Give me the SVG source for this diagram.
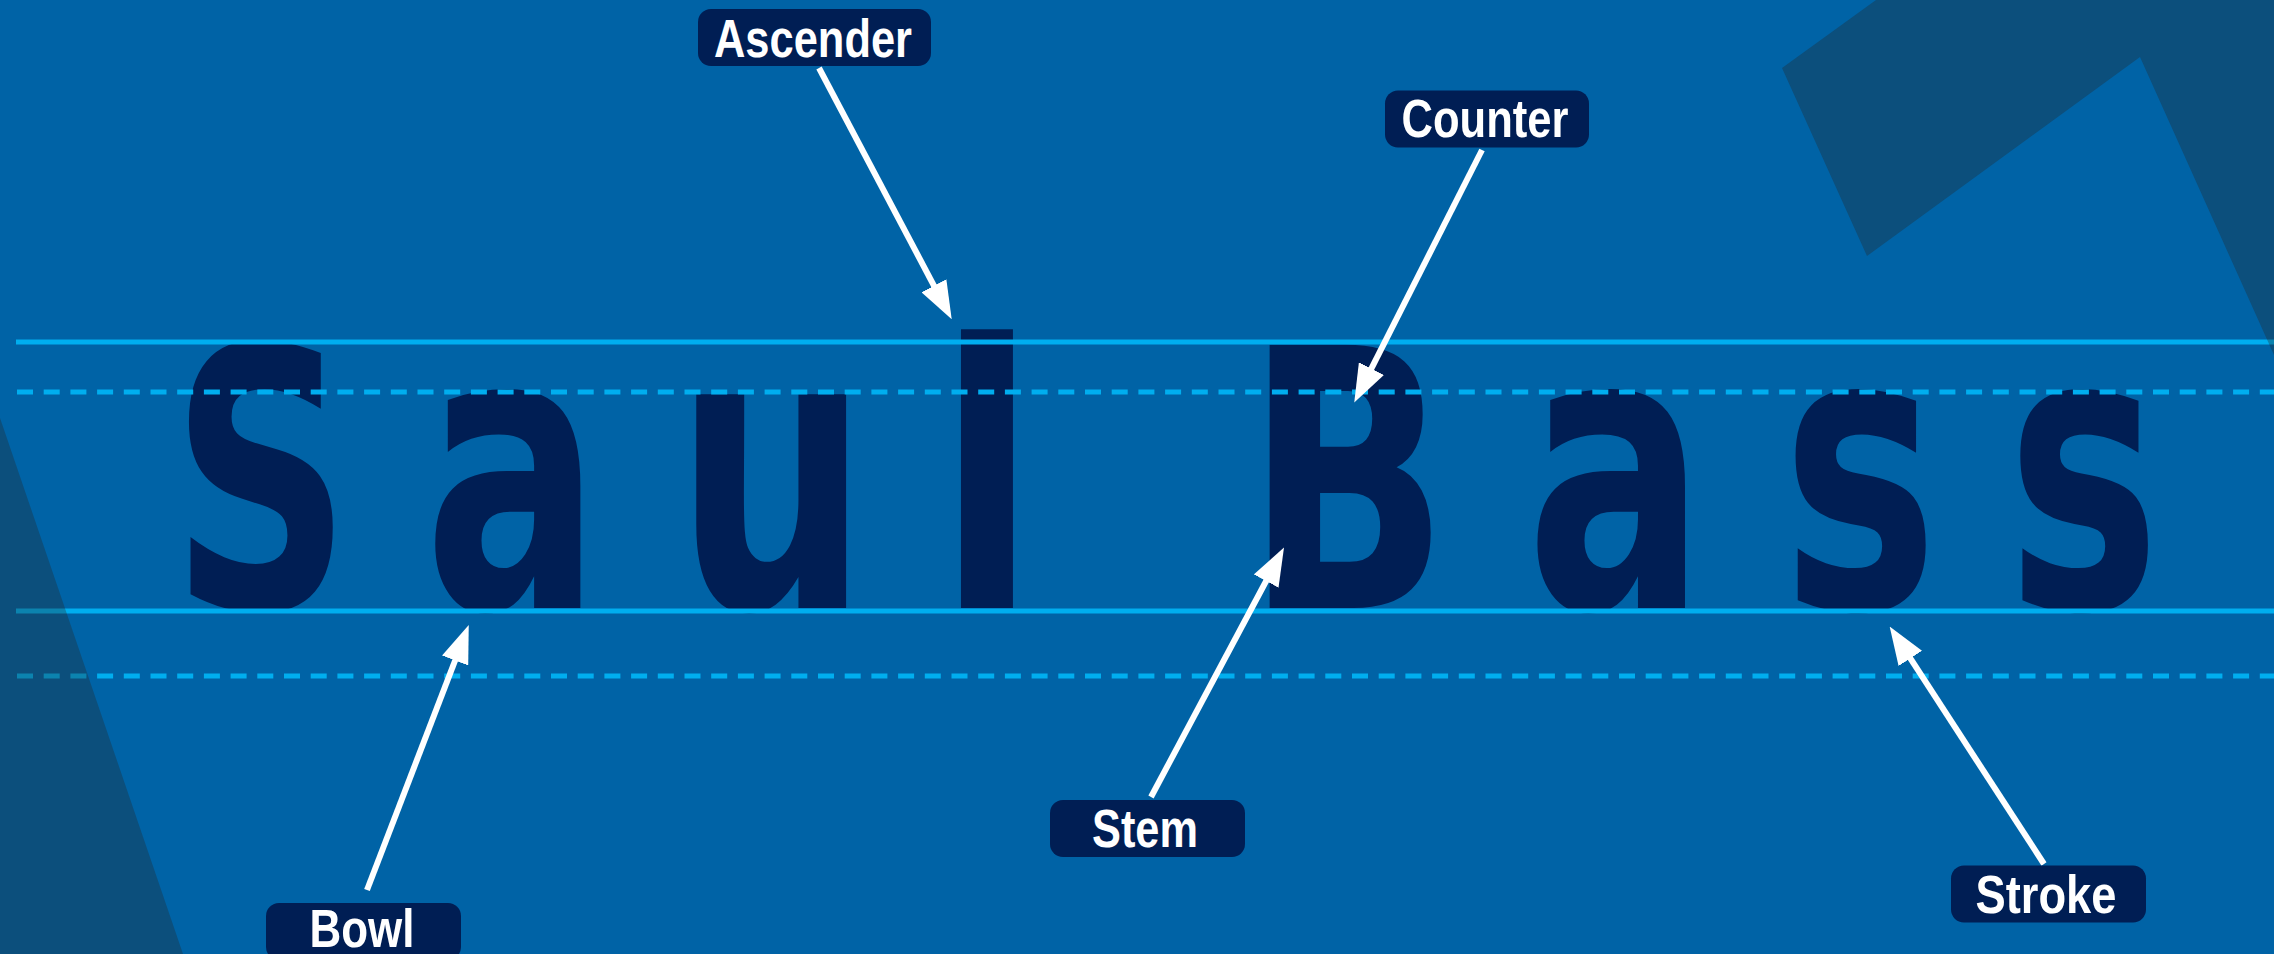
<svg xmlns="http://www.w3.org/2000/svg" width="2274" height="954" viewBox="0 0 2274 954">
  <defs>
    <style>
      .bg { fill: #0063a6; }
      .glyph { font-family: "DejaVu Sans", "Liberation Sans", sans-serif; font-weight: bold; fill: #001e54; }
      .guide { stroke: #00aeef; stroke-width: 5; fill: none; }
      .dash { stroke-dasharray: 16 10.7; }
      .shade { fill: #28211c; fill-opacity: 0.3; }
      .conn { stroke: #ffffff; stroke-width: 6; fill: none; marker-end: url(#head); }
      .box { fill: #001e54; }
      .lbl { font-family: "Liberation Sans", Arial, sans-serif; font-weight: bold; font-size: 53px; fill: #ffffff; text-anchor: middle; }
    </style>
    <marker id="head" markerUnits="userSpaceOnUse" viewBox="0 0 38 28" refX="8" refY="14" markerWidth="38" markerHeight="28" orient="auto">
      <path d="M0,0 L38,14 L0,28 Z" fill="#ffffff"/>
    </marker>
  </defs>

  <!-- backdrop -->
  <rect class="bg" x="0" y="0" width="2274" height="954"/>

  <!-- specimen lettering, each glyph condensed horizontally -->
  <g id="specimen">
    <text class="glyph" font-size="361" transform="translate(171 608) scale(0.6925 1)">S</text>
    <text class="glyph" font-size="391" transform="translate(424 608) scale(0.6707 1)">a</text>
    <text class="glyph" font-size="391" transform="translate(675 608) scale(0.6968 1)">u</text>
    <text class="glyph" font-size="367" transform="translate(936 608) scale(0.810 1)">l</text>
    <text class="glyph" font-size="361" transform="translate(1245 608) scale(0.7433 1)">B</text>
    <text class="glyph" font-size="391" transform="translate(1526 608) scale(0.682 1)">a</text>
    <text class="glyph" font-size="391" transform="translate(1782 608) scale(0.6706 1)">s</text>
    <text class="glyph" font-size="391" transform="translate(2007 608) scale(0.6577 1)">s</text>
  </g>

  <!-- guide lines: cap line, x-height, baseline, descender -->
  <g id="guides">
    <line class="guide" x1="16" y1="342" x2="2274" y2="342"/>
    <line class="guide dash" x1="17" y1="392" x2="2274" y2="392"/>
    <line class="guide" x1="16" y1="611" x2="2274" y2="611"/>
    <line class="guide dash" x1="17" y1="676" x2="2274" y2="676"/>
  </g>

  <!-- angular shadow shapes -->
  <g id="shapes">
    <polygon class="shade" points="0,418 183,954 0,954"/>
    <polygon class="shade" points="1782,68 1876,0 2274,0 2274,355 2140,57 1867,256"/>
  </g>

  <!-- pointers -->
  <g id="connectors">
    <line class="conn" x1="819" y1="68" x2="937.7" y2="292.8"/>
    <line class="conn" x1="1482" y1="150" x2="1367.8" y2="375.7"/>
    <line class="conn" x1="1151" y1="797" x2="1269.9" y2="574"/>
    <line class="conn" x1="367" y1="890" x2="458" y2="653"/>
    <line class="conn" x1="2044" y1="864" x2="1906" y2="651.7"/>
  </g>

  <!-- labels -->
  <g id="ascender">
    <rect class="box" x="698" y="9" width="233" height="57" rx="13"/>
    <text class="lbl" x="813" y="56.5" textLength="198" lengthAdjust="spacingAndGlyphs">Ascender</text>
  </g>
  <g id="counter">
    <rect class="box" x="1385" y="90.5" width="204" height="57" rx="13"/>
    <text class="lbl" x="1485" y="136.5" textLength="167" lengthAdjust="spacingAndGlyphs">Counter</text>
  </g>
  <g id="stem">
    <rect class="box" x="1050" y="800" width="195" height="57" rx="13"/>
    <text class="lbl" x="1145" y="846.5" textLength="106" lengthAdjust="spacingAndGlyphs">Stem</text>
  </g>
  <g id="stroke">
    <rect class="box" x="1951" y="865.5" width="195" height="57" rx="13"/>
    <text class="lbl" x="2046" y="912.5" textLength="141" lengthAdjust="spacingAndGlyphs">Stroke</text>
  </g>
  <g id="bowl">
    <rect class="box" x="266" y="903" width="195" height="57" rx="13"/>
    <text class="lbl" x="362" y="947" textLength="105" lengthAdjust="spacingAndGlyphs">Bowl</text>
  </g>
</svg>
